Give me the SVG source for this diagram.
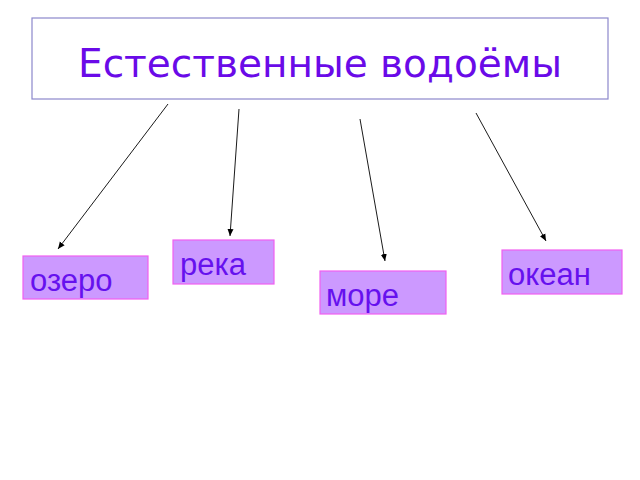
<svg xmlns="http://www.w3.org/2000/svg" width="640" height="480" viewBox="0 0 640 480">
<defs>
<marker id="ah" markerWidth="8" markerHeight="8" refX="7" refY="4" orient="auto" markerUnits="userSpaceOnUse">
<path d="M0,1 L7,4 L0,7 Z" fill="#000"/>
</marker>
<style>
.node rect{fill:#cc99ff;stroke:#f060f0;stroke-width:1.2}
.lbl{font-family:"Liberation Sans",Arial,sans-serif;font-size:31px;fill:#6611ee}
.conn line{stroke:#000;stroke-width:0.9;marker-end:url(#ah)}
</style>
</defs>
<rect width="640" height="480" fill="#fff"/>
<g id="title">
<rect x="32" y="18" width="576" height="81" fill="#fff" stroke="#8c88cc" stroke-width="1.2"/>
<text x="320" y="77" text-anchor="middle" font-family="'DejaVu Sans',sans-serif" font-size="39" fill="#6a0ae8">Естественные водоёмы</text>
</g>
<g id="connectors" class="conn">
<line x1="168" y1="104" x2="58" y2="249"/>
<line x1="239" y1="109" x2="230" y2="236"/>
<line x1="360" y1="119" x2="385" y2="261"/>
<line x1="476" y1="113" x2="546" y2="241"/>
</g>
<g id="ozero" class="node">
<rect x="23" y="256" width="125" height="43"/>
<text class="lbl" x="30" y="291">озеро</text>
</g>
<g id="reka" class="node">
<rect x="173" y="240" width="101" height="44"/>
<text class="lbl" x="180" y="275">река</text>
</g>
<g id="more" class="node">
<rect x="320" y="271" width="126" height="43"/>
<text class="lbl" x="326" y="306">море</text>
</g>
<g id="okean" class="node">
<rect x="502" y="250" width="120" height="44"/>
<text class="lbl" x="508" y="285">океан</text>
</g>
</svg>
